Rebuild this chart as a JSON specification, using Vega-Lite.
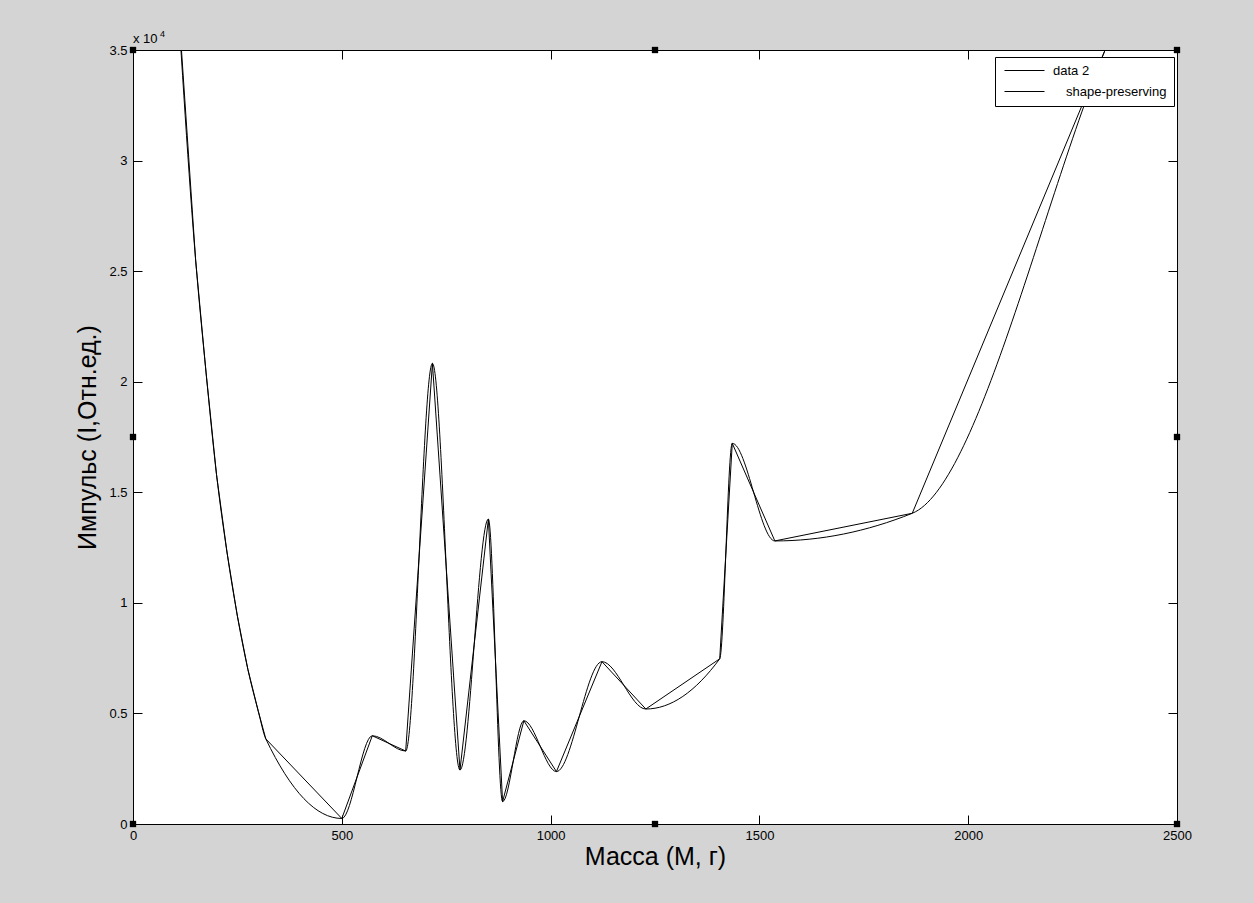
{
  "$schema": "https://vega.github.io/schema/vega-lite/v6.json",
  "width": 1044,
  "height": 774,
  "autosize": "none",
  "padding": {"left": 133, "top": 50, "right": 77, "bottom": 79},
  "background": "#d4d4d4",
  "config": {
    "view": {"stroke": "#000000", "strokeWidth": 1, "fill": "#ffffff"},
    "font": "Liberation Sans",
    "axis": {"grid": false, "domain": false, "tickColor": "#000000", "tickSize": -9, "labelFlush": false, "labelOverlap": false, "labelColor": "#000000", "labelFontSize": 13, "labelFont": "Liberation Sans", "titleFont": "Liberation Sans", "titleFontWeight": "normal", "titleColor": "#000000", "titleFontSize": 25}
  },
  "datasets": {
    "curve": [
      {"series": "data 2", "m": 100, "p": 39500},
      {"series": "data 2", "m": 150, "p": 25500},
      {"series": "data 2", "m": 175, "p": 20400},
      {"series": "data 2", "m": 200, "p": 15800},
      {"series": "data 2", "m": 225, "p": 12300},
      {"series": "data 2", "m": 250, "p": 9400},
      {"series": "data 2", "m": 275, "p": 7000},
      {"series": "data 2", "m": 300, "p": 5100},
      {"series": "data 2", "m": 318, "p": 3850},
      {"series": "data 2", "m": 500, "p": 250},
      {"series": "data 2", "m": 573, "p": 3990},
      {"series": "data 2", "m": 653, "p": 3300},
      {"series": "data 2", "m": 717, "p": 20830},
      {"series": "data 2", "m": 783, "p": 2440},
      {"series": "data 2", "m": 851, "p": 13790},
      {"series": "data 2", "m": 885, "p": 1010},
      {"series": "data 2", "m": 936, "p": 4670},
      {"series": "data 2", "m": 1014, "p": 2370},
      {"series": "data 2", "m": 1123, "p": 7340},
      {"series": "data 2", "m": 1228, "p": 5200},
      {"series": "data 2", "m": 1405, "p": 7470},
      {"series": "data 2", "m": 1435, "p": 17215},
      {"series": "data 2", "m": 1537, "p": 12800},
      {"series": "data 2", "m": 1866, "p": 14050},
      {"series": "data 2", "m": 2330, "p": 35100},
      {"series": "data 2", "m": 2500, "p": 43000},
      {"series": "shape-preserving", "m": 100, "p": 39500},
      {"series": "shape-preserving", "m": 150, "p": 25500},
      {"series": "shape-preserving", "m": 175, "p": 20400},
      {"series": "shape-preserving", "m": 200, "p": 15800},
      {"series": "shape-preserving", "m": 225, "p": 12300},
      {"series": "shape-preserving", "m": 250, "p": 9400},
      {"series": "shape-preserving", "m": 275, "p": 7000},
      {"series": "shape-preserving", "m": 300, "p": 5100},
      {"series": "shape-preserving", "m": 318, "p": 3850},
      {"series": "shape-preserving", "m": 500, "p": 250},
      {"series": "shape-preserving", "m": 573, "p": 3990},
      {"series": "shape-preserving", "m": 653, "p": 3300},
      {"series": "shape-preserving", "m": 717, "p": 20830},
      {"series": "shape-preserving", "m": 783, "p": 2440},
      {"series": "shape-preserving", "m": 851, "p": 13790},
      {"series": "shape-preserving", "m": 885, "p": 1010},
      {"series": "shape-preserving", "m": 936, "p": 4670},
      {"series": "shape-preserving", "m": 1014, "p": 2370},
      {"series": "shape-preserving", "m": 1123, "p": 7340},
      {"series": "shape-preserving", "m": 1228, "p": 5200},
      {"series": "shape-preserving", "m": 1405, "p": 7470},
      {"series": "shape-preserving", "m": 1435, "p": 17215},
      {"series": "shape-preserving", "m": 1537, "p": 12800},
      {"series": "shape-preserving", "m": 1866, "p": 14050},
      {"series": "shape-preserving", "m": 2330, "p": 35100},
      {"series": "shape-preserving", "m": 2500, "p": 43000}
    ],
    "handles": [
      {"m": 0, "p": 0}, {"m": 1250, "p": 0}, {"m": 2500, "p": 0},
      {"m": 0, "p": 17500}, {"m": 2500, "p": 17500},
      {"m": 0, "p": 35000}, {"m": 1250, "p": 35000}, {"m": 2500, "p": 35000}
    ]
  },
  "layer": [
    {
      "data": {"name": "curve"},
      "transform": [{"filter": "datum.series == 'data 2'"}],
      "mark": {"type": "line", "clip": true, "strokeWidth": 1, "interpolate": "linear"},
      "encoding": {
        "x": {"field": "m", "type": "quantitative", "scale": {"domain": [0, 2500], "nice": false}, "axis": {"orient": "bottom", "values": [0, 500, 1000, 1500, 2000, 2500], "format": "d", "labelPadding": 14, "title": "Масса (M, г)", "titlePadding": 2}},
        "y": {"field": "p", "type": "quantitative", "scale": {"domain": [0, 35000], "nice": false, "zero": false}, "axis": {"orient": "left", "values": [0, 5000, 10000, 15000, 20000, 25000, 30000, 35000], "labelExpr": "datum.value / 10000 + ''", "labelPadding": 15, "title": "Импульс (I,Отн.ед.)", "titlePadding": 8}},
        "color": {"field": "series", "type": "nominal", "scale": {"domain": ["data 2", "shape-preserving"], "range": ["#000000", "#000000"]}, "legend": {"orient": "none", "legendX": 862, "legendY": 7, "title": null, "symbolType": "M-0.8,0H7.2", "symbolSize": 100, "symbolStrokeWidth": 1, "labelFontSize": 13, "labelFont": "Liberation Sans", "labelColor": "#000000", "labelOffset": 38, "fillColor": "#ffffff", "strokeColor": "#000000", "padding": 7, "rowPadding": 7, "labelExpr": "datum.label == 'shape-preserving' ? '\u200b\u2002\u2002shape-preserving' : datum.label"}}
      }
    },
    {
      "data": {"name": "curve"},
      "transform": [{"filter": "datum.series == 'shape-preserving'"}],
      "mark": {"type": "line", "clip": true, "strokeWidth": 1, "interpolate": "monotone"},
      "encoding": {
        "x": {"field": "m", "type": "quantitative", "axis": {"orient": "top", "values": [0, 500, 1000, 1500, 2000, 2500], "labels": false, "title": null}},
        "y": {"field": "p", "type": "quantitative", "axis": {"orient": "right", "values": [0, 5000, 10000, 15000, 20000, 25000, 30000, 35000], "labels": false, "title": null}},
        "color": {"field": "series", "type": "nominal"}
      }
    },
    {
      "data": {"name": "handles"},
      "mark": {"type": "square", "filled": true, "color": "#000000", "size": 40, "opacity": 1},
      "encoding": {
        "x": {"field": "m", "type": "quantitative", "axis": null},
        "y": {"field": "p", "type": "quantitative", "axis": null}
      }
    },
    {
      "data": {"values": [{"m": 0, "p": 35000}]},
      "mark": {"type": "text", "text": "x 10", "align": "left", "baseline": "alphabetic", "dx": 0, "dy": -7, "fontSize": 13, "color": "#000000"},
      "encoding": {
        "x": {"field": "m", "type": "quantitative", "axis": null},
        "y": {"field": "p", "type": "quantitative", "axis": null}
      }
    },
    {
      "data": {"values": [{"m": 0, "p": 35000}]},
      "mark": {"type": "text", "text": "4", "align": "left", "baseline": "alphabetic", "dx": 27, "dy": -13, "fontSize": 9, "color": "#000000"},
      "encoding": {
        "x": {"field": "m", "type": "quantitative", "axis": null},
        "y": {"field": "p", "type": "quantitative", "axis": null}
      }
    }
  ]
}
